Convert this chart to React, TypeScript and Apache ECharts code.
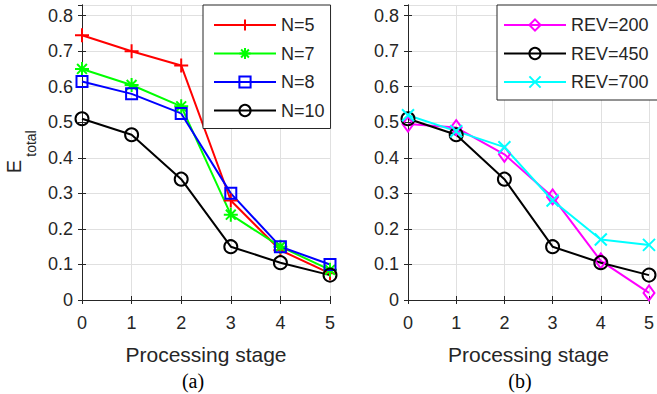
import React, { useEffect, useRef } from "react";
import * as echarts from "echarts";

const stages = [0, 1, 2, 3, 4, 5];
const xTicks = ["0", "1", "2", "3", "4", "5"];
const n5 = [0.745, 0.7, 0.66, 0.28, 0.14, 0.075];
const n7 = [0.65, 0.605, 0.545, 0.24, 0.15, 0.085];
const n8 = [0.615, 0.58, 0.525, 0.3, 0.15, 0.1];
const n10 = [0.51, 0.465, 0.34, 0.15, 0.105, 0.07];
const rev200 = [0.495, 0.485, 0.41, 0.29, 0.11, 0.02];
const rev450 = [0.51, 0.465, 0.34, 0.15, 0.105, 0.07];
const rev700 = [0.52, 0.475, 0.43, 0.28, 0.17, 0.155];

const PLUS = "path://M0,-1L0,1M-1,0L1,0";
const STAR = "path://M0,-1L0,1M-1,0L1,0M-0.7,-0.7L0.7,0.7M-0.7,0.7L0.7,-0.7";
const CROSS = "path://M-1,-1L1,1M-1,1L1,-1";

const AX = "#262626";
const FONT = "Liberation Sans";

function mk(name: string, vals: number[], color: string, symbol: string, size: number | number[], axis: number) {
  return {
    name,
    type: "line",
    xAxisIndex: axis,
    yAxisIndex: axis,
    data: stages.map((x, i) => [x, vals[i]]),
    symbol,
    symbolSize: size,
    showAllSymbol: true,
    clip: false,
    lineStyle: { color, width: 2 },
    itemStyle: { color: "transparent", borderColor: color, borderWidth: 2 },
    emphasis: { disabled: true },
  };
}

function xAxes(grid: number) {
  return [
    {
      gridIndex: grid,
      type: "value",
      min: 0,
      max: 5,
      interval: 1,
      position: "bottom",
      name: "Processing stage",
      nameLocation: "middle",
      nameGap: 44,
      nameTextStyle: { color: AX, fontFamily: FONT, fontSize: 21 },
      axisLine: { show: true, lineStyle: { color: AX, width: 1 } },
      axisTick: { show: true, inside: true, length: 4, lineStyle: { color: AX } },
      axisLabel: {
        color: AX,
        fontFamily: FONT,
        fontSize: 18,
        margin: 14,
        formatter: (v: number) => xTicks[Math.round(v)] ?? "",
      },
      splitLine: { show: true, lineStyle: { color: "#e0e0e0", width: 1 } },
    },
    {
      gridIndex: grid,
      type: "value",
      min: 0,
      max: 5,
      interval: 1,
      position: "top",
      axisLine: { show: true, lineStyle: { color: AX, width: 1 } },
      axisTick: { show: true, inside: true, length: 4, lineStyle: { color: AX } },
      axisLabel: { show: false },
      splitLine: { show: false },
    },
  ];
}

const yFmt = (v: number) => {
  const t = v * 10;
  if (Math.abs(t - Math.round(t)) > 1e-6) return "";
  return v === 0 ? "0" : (Math.round(t) / 10).toFixed(1);
};

function yAxes(grid: number) {
  return [
    {
      gridIndex: grid,
      type: "value",
      min: 0,
      max: 0.83,
      interval: 0.1,
      position: "left",
      axisLine: { show: true, lineStyle: { color: AX, width: 1 } },
      axisTick: { show: true, inside: true, length: 4, lineStyle: { color: AX } },
      axisLabel: { color: AX, fontFamily: FONT, fontSize: 18, margin: 9, formatter: yFmt, showMaxLabel: false },
      splitLine: { show: true, lineStyle: { color: "#e0e0e0", width: 1 } },
    },
    {
      gridIndex: grid,
      type: "value",
      min: 0,
      max: 0.83,
      interval: 0.1,
      position: "right",
      axisLine: { show: true, lineStyle: { color: AX, width: 1 } },
      axisTick: { show: true, inside: true, length: 4, lineStyle: { color: AX } },
      axisLabel: { show: false },
      splitLine: { show: false },
    },
  ];
}

export default function App() {
  const ref = useRef<HTMLDivElement>(null);
  useEffect(() => {
    if (!ref.current) return;
    const chart = echarts.init(ref.current, null, { renderer: "svg" });
    const legendBase = {
      orient: "vertical",
      backgroundColor: "#ffffff",
      borderColor: AX,
      borderWidth: 1,
      itemWidth: 62,
      itemHeight: 14,
      itemGap: 10.5,
      textStyle: { color: AX, fontFamily: FONT, fontSize: 18 },
      selectedMode: false,
    };
    chart.setOption({
      animation: false,
      backgroundColor: "#ffffff",
      grid: [
        { left: 82, top: 5, width: 248, height: 295 },
        { left: 408, top: 5, width: 248, height: 295 },
      ],
      xAxis: [...xAxes(0), ...xAxes(1)],
      yAxis: [...yAxes(0), ...yAxes(1)],
      legend: [
        {
          ...legendBase,
          left: 203,
          top: 5,
          padding: [11, 6, 9, 10],
          itemTextGap: 5,
          data: ["N=5", "N=7", "N=8", "N=10"],
        },
        {
          ...legendBase,
          left: 497,
          top: 5,
          padding: [11, 9, 9, 6],
          itemTextGap: 6,
          data: ["REV=200", "REV=450", "REV=700"],
        },
      ],
      series: [
        mk("N=5", n5, "#ff0000", PLUS, 14, 0),
        mk("N=7", n7, "#00ff00", STAR, 14, 0),
        mk("N=8", n8, "#0000ff", "rect", 11, 0),
        mk("N=10", n10, "#000000", "circle", 13, 0),
        mk("REV=200", rev200, "#ff00ff", "diamond", [11, 15], 2),
        mk("REV=450", rev450, "#000000", "circle", 13, 2),
        mk("REV=700", rev700, "#00ffff", CROSS, 12, 2),
      ],
      graphic: [
        {
          type: "text",
          x: 14,
          y: 166.5,
          rotation: Math.PI / 2,
          style: { text: "E", font: "20px 'Liberation Sans'", fill: AX, textAlign: "center", textVerticalAlign: "middle" },
        },
        {
          type: "text",
          x: 31,
          y: 143.5,
          rotation: Math.PI / 2,
          style: { text: "total", font: "14px 'Liberation Sans'", fill: AX, textAlign: "center", textVerticalAlign: "middle" },
        },
        {
          type: "text",
          x: 193,
          y: 381,
          style: { text: "(a)", font: "20px 'Liberation Serif'", fill: "#000", textAlign: "center", textVerticalAlign: "middle" },
        },
        {
          type: "text",
          x: 520,
          y: 381,
          style: { text: "(b)", font: "20px 'Liberation Serif'", fill: "#000", textAlign: "center", textVerticalAlign: "middle" },
        },
      ],
    });
    return () => chart.dispose();
  }, []);
  return <div ref={ref} style={{ width: 657, height: 394, position: "absolute", left: 0, top: 0 }} />;
}
